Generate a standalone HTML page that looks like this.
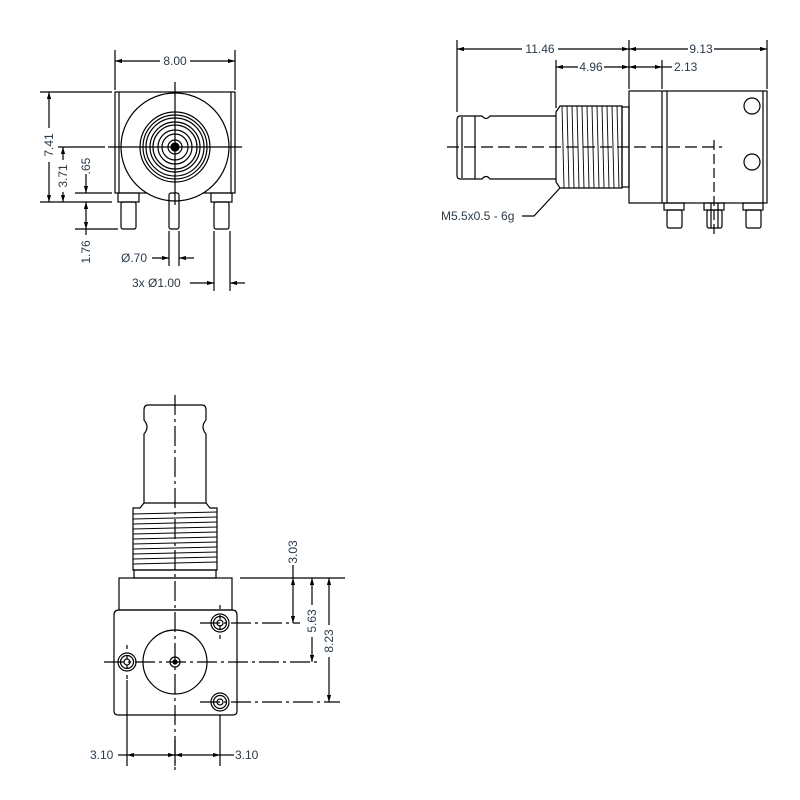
<!DOCTYPE html>
<html><head><meta charset="utf-8"><style>
html,body{margin:0;padding:0;background:#fff;}
svg{display:block;}
text{font-family:"Liberation Sans","DejaVu Sans",sans-serif;font-size:12px;fill:#2a3a4a;}
</style></head><body>
<svg width="800" height="800" viewBox="0 0 800 800" xmlns="http://www.w3.org/2000/svg">
<defs>
<marker id="a" viewBox="0 0 10 6" refX="10" refY="3" markerWidth="7" markerHeight="3.5" orient="auto-start-reverse"><path d="M0,0 L10,3 L0,6 z" fill="#000"/></marker>
</defs>
<g stroke="#000" stroke-width="1.2" fill="none">
<!-- ===== VIEW 1 ===== -->
<rect x="115" y="92" width="120" height="101"/>
<line x1="119" y1="92" x2="119" y2="193"/><line x1="231" y1="92" x2="231" y2="193"/>
<circle cx="175" cy="147" r="54" fill="#fff"/>
<circle cx="175" cy="147" r="35"/><circle cx="175" cy="147" r="32"/><circle cx="175" cy="147" r="29"/>
<circle cx="175" cy="147" r="25"/><circle cx="175" cy="147" r="22"/><circle cx="175" cy="147" r="17"/>
<circle cx="175" cy="147" r="13"/><circle cx="175" cy="147" r="7"/><circle cx="175" cy="147" r="4" fill="#000"/>
<rect x="118" y="193" width="21" height="9"/><rect x="211" y="193" width="21" height="9"/>
<rect x="121" y="202" width="15" height="27" rx="2"/><rect x="214" y="202" width="15" height="27" rx="2"/>
<rect x="169" y="193" width="10" height="36" rx="2"/>
<line x1="175" y1="82" x2="175" y2="205"/><line x1="108" y1="147" x2="242" y2="147"/>
<!-- dims v1 -->
<line x1="115" y1="50" x2="115" y2="90"/><line x1="235" y1="50" x2="235" y2="90"/>
<line x1="115" y1="61" x2="160" y2="61" marker-start="url(#a)"/><line x1="190" y1="61" x2="235" y2="61" marker-end="url(#a)"/>
<line x1="40" y1="92" x2="112" y2="92"/><line x1="40" y1="202" x2="112" y2="202"/>
<line x1="49" y1="92" x2="49" y2="128" marker-start="url(#a)"/><line x1="49" y1="162" x2="49" y2="202" marker-end="url(#a)"/>
<line x1="58" y1="147" x2="105" y2="147"/>
<line x1="63" y1="147" x2="63" y2="160" marker-start="url(#a)"/><line x1="63" y1="192" x2="63" y2="202" marker-end="url(#a)"/>
<line x1="75" y1="193" x2="112" y2="193"/><line x1="75" y1="229" x2="118" y2="229"/>
<line x1="86" y1="174" x2="86" y2="193" marker-end="url(#a)"/>
<line x1="86" y1="202" x2="86" y2="229" marker-start="url(#a)" marker-end="url(#a)"/>
<line x1="86" y1="229" x2="86" y2="235"/>
<line x1="169" y1="231" x2="169" y2="266"/><line x1="179" y1="231" x2="179" y2="266"/>
<line x1="152" y1="258" x2="169" y2="258" marker-end="url(#a)"/><line x1="194" y1="258" x2="179" y2="258" marker-end="url(#a)"/>
<line x1="214" y1="231" x2="214" y2="291"/><line x1="230" y1="231" x2="230" y2="291"/>
<line x1="190" y1="283" x2="214" y2="283" marker-end="url(#a)"/><line x1="245" y1="283" x2="230" y2="283" marker-end="url(#a)"/>
<!-- ===== VIEW 2 ===== -->
<rect x="629" y="91" width="138" height="112"/>
<line x1="662" y1="91" x2="662" y2="203"/><line x1="667" y1="91" x2="667" y2="203"/><line x1="763" y1="91" x2="763" y2="203"/>
<circle cx="752" cy="106" r="8"/><circle cx="752" cy="162" r="8"/>
<rect x="622" y="107" width="7" height="80"/>
<path d="M556,112 L560,106 L622,106 L622,188 L560,188 L556,182 Z"/>
<g stroke-width="0.9">
<line x1="562" y1="106" x2="564" y2="188"/><line x1="567" y1="106" x2="569" y2="188"/><line x1="572" y1="106" x2="574" y2="188"/>
<line x1="577" y1="106" x2="579" y2="188"/><line x1="582" y1="106" x2="584" y2="188"/><line x1="587" y1="106" x2="589" y2="188"/>
<line x1="592" y1="106" x2="594" y2="188"/><line x1="597" y1="106" x2="599" y2="188"/><line x1="602" y1="106" x2="604" y2="188"/>
<line x1="607" y1="106" x2="609" y2="188"/><line x1="612" y1="106" x2="614" y2="188"/><line x1="617" y1="106" x2="619" y2="188"/>
</g>
<path d="M556,116 L490,116 Q486,121 482,116 L460,116 Q457,116 457,120 L457,175 Q457,179 460,179 L482,179 Q486,174 490,179 L556,179"/>
<line x1="462" y1="117" x2="462" y2="178"/><line x1="475" y1="116" x2="475" y2="179"/>
<rect x="664" y="203" width="20" height="7"/><rect x="704" y="203" width="20" height="7"/><rect x="743" y="203" width="20" height="7"/>
<rect x="667" y="210" width="15" height="18" rx="2"/><rect x="707" y="210" width="15" height="18" rx="2"/><rect x="746" y="210" width="15" height="18" rx="2"/>
<line x1="711" y1="203" x2="711" y2="228"/><line x1="718" y1="203" x2="718" y2="228"/>
<line x1="447" y1="147" x2="722" y2="147" stroke-dasharray="12,5"/>
<line x1="714" y1="140" x2="714" y2="235" stroke-dasharray="10,4"/>
<line x1="457" y1="40" x2="457" y2="112"/><line x1="556" y1="60" x2="556" y2="108"/>
<line x1="629" y1="40" x2="629" y2="89"/><line x1="662" y1="60" x2="662" y2="89"/><line x1="767" y1="40" x2="767" y2="89"/>
<line x1="457" y1="49" x2="522" y2="49" marker-start="url(#a)"/><line x1="558" y1="49" x2="629" y2="49" marker-end="url(#a)"/>
<line x1="629" y1="49" x2="688" y2="49" marker-start="url(#a)"/><line x1="714" y1="49" x2="767" y2="49" marker-end="url(#a)"/>
<line x1="556" y1="67" x2="578" y2="67" marker-start="url(#a)"/><line x1="604" y1="67" x2="629" y2="67" marker-end="url(#a)"/>
<line x1="629" y1="67" x2="662" y2="67" marker-start="url(#a)" marker-end="url(#a)"/><line x1="662" y1="67" x2="672" y2="67"/>
<polyline points="522,216 534,216 560,188"/>
<!-- ===== VIEW 3 ===== -->
<path d="M144,410 Q144,405 148,405 L202,405 Q206,405 206,410 L206,420 Q200,427 206,434 L206,503 L144,503 L144,434 Q150,427 144,420 Z"/>
<path d="M144,503 L140,508 L133,508 L133,570 L217,570 L217,508 L210,508 L206,503"/>
<g stroke-width="0.9">
<line x1="133" y1="514" x2="217" y2="512"/><line x1="133" y1="519" x2="217" y2="517"/><line x1="133" y1="524" x2="217" y2="522"/>
<line x1="133" y1="529" x2="217" y2="527"/><line x1="133" y1="534" x2="217" y2="532"/><line x1="133" y1="539" x2="217" y2="537"/>
<line x1="133" y1="544" x2="217" y2="542"/><line x1="133" y1="549" x2="217" y2="547"/><line x1="133" y1="554" x2="217" y2="552"/>
<line x1="133" y1="559" x2="217" y2="557"/><line x1="133" y1="564" x2="217" y2="562"/>
</g>
<rect x="134" y="570" width="82" height="8"/>
<rect x="119" y="578" width="113" height="32"/>
<path d="M119,610 L232,610 Q237,610 237,615 L237,711 Q237,715 233,715 L118,715 Q114,715 114,711 L114,615 Q114,610 119,610"/>
<circle cx="175" cy="662" r="32"/><circle cx="175" cy="662" r="5"/><circle cx="175" cy="662" r="2" fill="#000"/>
<circle cx="220" cy="623" r="9"/><circle cx="220" cy="623" r="6.5"/><circle cx="220" cy="623" r="3"/>
<circle cx="127" cy="662" r="9"/><circle cx="127" cy="662" r="6.5"/><circle cx="127" cy="662" r="3"/>
<circle cx="220" cy="702" r="9"/><circle cx="220" cy="702" r="6.5"/><circle cx="220" cy="702" r="3"/>
<line x1="175" y1="395" x2="175" y2="770" stroke-dasharray="20,4,3,4"/>
<line x1="104" y1="662" x2="320" y2="662" stroke-dasharray="20,4,3,4"/>
<line x1="220" y1="605" x2="220" y2="640" stroke-dasharray="4,6"/>
<line x1="127" y1="645" x2="127" y2="680" stroke-dasharray="4,6"/>
<line x1="200" y1="623" x2="300" y2="623" stroke-dasharray="20,4,3,4"/>
<line x1="200" y1="702" x2="340" y2="702" stroke-dasharray="20,4,3,4"/>
<line x1="240" y1="578" x2="345" y2="578"/>
<line x1="293" y1="565" x2="293" y2="578"/>
<line x1="293" y1="578" x2="293" y2="623" marker-start="url(#a)" marker-end="url(#a)"/>
<line x1="312" y1="578" x2="312" y2="605" marker-start="url(#a)"/><line x1="312" y1="637" x2="312" y2="662" marker-end="url(#a)"/>
<line x1="329" y1="578" x2="329" y2="625" marker-start="url(#a)"/><line x1="329" y1="657" x2="329" y2="702" marker-end="url(#a)"/>
<line x1="127" y1="680" x2="127" y2="766"/><line x1="175" y1="740" x2="175" y2="766"/><line x1="220" y1="715" x2="220" y2="766"/>
<line x1="118" y1="755" x2="127" y2="755"/>
<line x1="127" y1="755" x2="175" y2="755" marker-start="url(#a)" marker-end="url(#a)"/>
<line x1="175" y1="755" x2="220" y2="755" marker-start="url(#a)" marker-end="url(#a)"/>
<line x1="220" y1="755" x2="234" y2="755"/>
</g>
<text x="175" y="65" text-anchor="middle">8.00</text>
<text transform="translate(53,145) rotate(-90)" text-anchor="middle">7.41</text>
<text transform="translate(67,176) rotate(-90)" text-anchor="middle">3.71</text>
<text transform="translate(90,166) rotate(-90)" text-anchor="middle">.65</text>
<text transform="translate(90,252) rotate(-90)" text-anchor="middle">1.76</text>
<text x="121" y="262">Ø.70</text>
<text x="132" y="287">3x Ø1.00</text>
<text x="540" y="53" text-anchor="middle">11.46</text>
<text x="701" y="53" text-anchor="middle">9.13</text>
<text x="591" y="71" text-anchor="middle">4.96</text>
<text x="674" y="71">2.13</text>
<text x="441" y="220">M5.5x0.5 - 6g</text>
<text transform="translate(297,552) rotate(-90)" text-anchor="middle">3.03</text>
<text transform="translate(316,621) rotate(-90)" text-anchor="middle">5.63</text>
<text transform="translate(333,641) rotate(-90)" text-anchor="middle">8.23</text>
<text x="90" y="759">3.10</text>
<text x="235" y="759">3.10</text>
</svg>
</body></html>
